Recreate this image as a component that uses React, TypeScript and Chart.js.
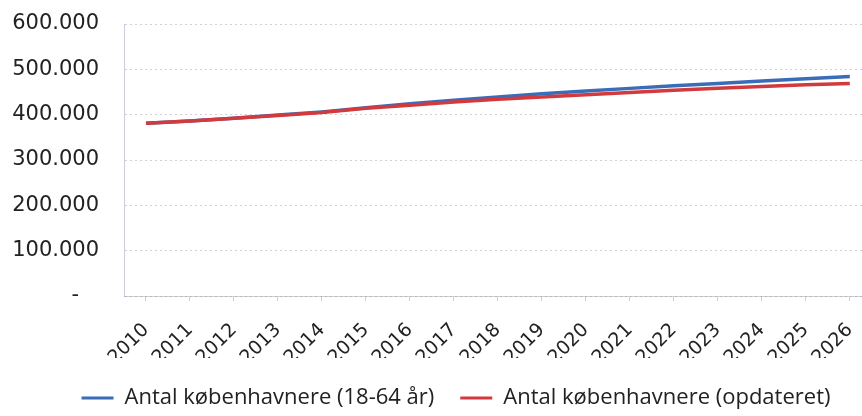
import React, { useEffect, useRef } from "react";
import { Chart, registerables } from "chart.js";

Chart.register(...registerables);

const years = ["2010","2011","2012","2013","2014","2015","2016","2017","2018","2019","2020","2021","2022","2023","2024","2025","2026"];
const blueValues = [381000, 386000, 392000, 399000, 406000, 415000, 424000, 432000, 439000, 446000, 452000, 458000, 464000, 469000, 474000, 479000, 484000];
const redValues = [381000, 386000, 392000, 398000, 405000, 414000, 421000, 428000, 434000, 439000, 444000, 449000, 454000, 458000, 462000, 466000, 469000];
const blueLabel = "Antal københavnere (18-64 år)";
const redLabel = "Antal københavnere (opdateret)";
const yTicks = [0, 100000, 200000, 300000, 400000, 500000, 600000];

function fmt(v: number): string {
  if (v === 0) return "-   ";
  return Math.round(v).toString().replace(/\B(?=(\d{3})+(?!\d))/g, ".");
}

const legendShift = {
  id: "legendShift",
  afterLayout(chart: any) {
    const l = chart.legend;
    if (l) {
      l.left += 15;
      l.right += 15;
      l.top += 3;
      l.bottom += 3;
    }
  },
};

export default function App() {
  const ref = useRef<HTMLCanvasElement | null>(null);
  useEffect(() => {
    if (!ref.current) return;
    const chart = new Chart(ref.current, {
      type: "line",
      data: {
        labels: years,
        datasets: [
          { label: blueLabel, data: blueValues, borderColor: "#3a6cb8", backgroundColor: "#3a6cb8", borderWidth: 3.5, pointRadius: 0, tension: 0, order: 1 },
          { label: redLabel, data: redValues, borderColor: "#d23a3e", backgroundColor: "#d23a3e", borderWidth: 3.5, pointRadius: 0, tension: 0, order: 0 },
        ],
      },
      plugins: [legendShift],
      options: {
        animation: false,
        responsive: false,
        layout: { padding: { top: 24, left: 0, right: 2, bottom: 0 } },
        plugins: {
          tooltip: { enabled: false },
          legend: {
            position: "bottom",
            labels: {
              font: { family: "Open Sans", size: 22 },
              color: "#222",
              boxWidth: 32,
              boxHeight: 3,
              padding: 26,
              generateLabels: (c: any) =>
                c.data.datasets.map((d: any, i: number) => ({
                  text: d.label,
                  fillStyle: d.borderColor,
                  strokeStyle: d.borderColor,
                  lineWidth: 0,
                  hidden: false,
                  datasetIndex: i,
                  fontColor: "#222",
                })),
            },
          },
        },
        scales: {
          x: {
            offset: true,
            grid: { display: true, drawOnChartArea: false, drawTicks: true, tickLength: 5, color: "rgba(150,150,160,0.45)" },
            border: { display: true, color: "rgba(150,150,160,0.45)", dash: [2, 4] },
            ticks: { autoSkip: false, maxRotation: 45, minRotation: 45, padding: 18, color: "#222", font: { family: "DejaVu Sans", size: 19 } },
            afterFit: (s: any) => { s.height = 62; },
          },
          y: {
            min: 0,
            max: 600000,
            afterBuildTicks: (s: any) => { s.ticks = yTicks.map((v) => ({ value: v })); },
            grid: { color: "rgba(150,150,165,0.45)", borderDash: [2, 5], drawTicks: false, lineWidth: 1 },
            border: { display: true, color: "rgba(160,150,185,0.5)", dash: [2, 3] },
            ticks: { padding: 25, color: "#222", font: { family: "DejaVu Sans", size: 21 }, callback: (v: any) => fmt(Number(v)) },
            afterFit: (s: any) => { s.width = 124; s.paddingTop = 0; s.paddingBottom = 0; },
          },
        },
      },
    });
    return () => chart.destroy();
  }, []);
  return (
    <div style={{ position: "fixed", left: 0, top: 0, width: 862, height: 416, overflow: "hidden", background: "#fff" }}>
      <canvas ref={ref} width={884} height={416} style={{ width: 884, height: 416, display: "block" }} />
    </div>
  );
}
